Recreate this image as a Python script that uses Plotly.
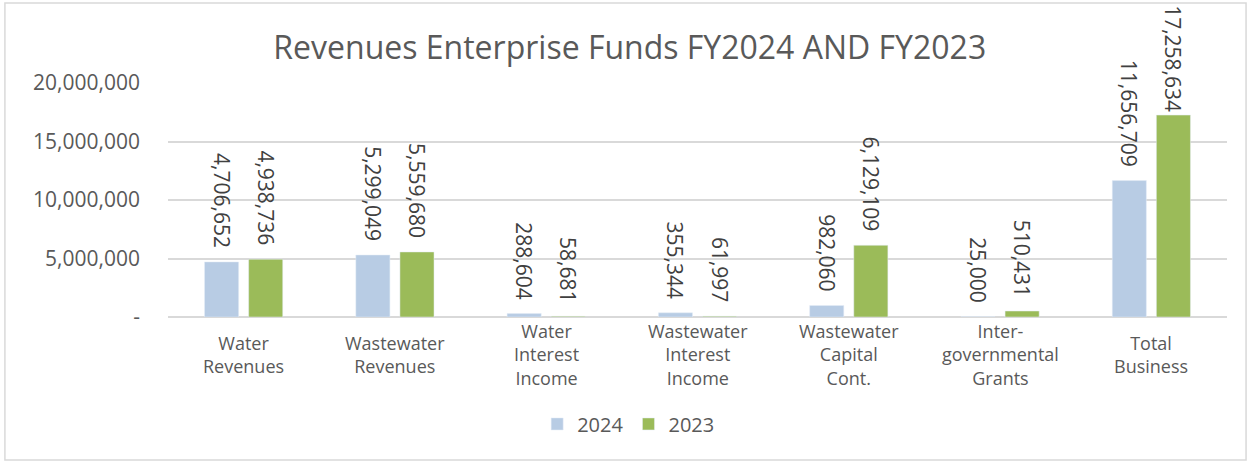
import plotly.graph_objects as go

categories = ["Water<br>Revenues", "Wastewater<br>Revenues", "Water<br>Interest<br>Income",
              "Wastewater<br>Interest<br>Income", "Wastewater<br>Capital<br>Cont.",
              "Inter-<br>governmental<br>Grants", "Total<br>Business"]
fy2024 = [4706652, 5299049, 288604, 355344, 982060, 25000, 11656709]
fy2023 = [4938736, 5559680, 58681, 61997, 6129109, 510431, 17258634]
ytick_vals = [0, 5000000, 10000000, 15000000, 20000000]
ytick_text = ["-", "5,000,000", "10,000,000", "15,000,000", "20,000,000"]

FONT = "Open Sans"
GRAY = "#595959"
LABEL_FONT = dict(size=21, color="#404040", family=FONT)
PAD = "%{y:,}\u00a0\u00a0"

# the tallest label runs into its bar in the original, so it gets no padding
tmpl_2023 = [PAD] * (len(fy2023) - 1) + ["%{y:,}"]

fig = go.Figure()
fig.add_trace(go.Bar(name="2024", x=categories, y=fy2024, marker_color="#B8CCE4",
                     texttemplate=PAD, textposition="outside", textangle=90,
                     constraintext="none", textfont=LABEL_FONT, cliponaxis=False))
fig.add_trace(go.Bar(name="2023", x=categories, y=fy2023, marker_color="#9BBB59",
                     texttemplate=tmpl_2023, textposition="outside", textangle=90,
                     constraintext="none", textfont=LABEL_FONT, cliponaxis=False))

# category labels, vertically centred like the original
for c in categories:
    fig.add_annotation(x=c, xref="x", y=-0.162, yref="paper", text=c, showarrow=False,
                       yanchor="middle", font=dict(size=18, color=GRAY, family=FONT))

# outer chart border
fig.add_shape(type="rect", xref="paper", yref="paper", x0=-0.154, x1=1.018, y0=-0.611, y1=1.342,
              line=dict(color="#D9D9D9", width=1.5))

fig.update_layout(
    width=1252, height=463,
    margin=dict(l=168, r=25, t=83, b=146, autoexpand=False),
    paper_bgcolor="white", plot_bgcolor="white",
    title=dict(text="Revenues Enterprise Funds FY2024 AND FY2023", x=0.503, xref="container",
               y=0.896, yref="container", yanchor="middle", xanchor="center",
               font=dict(size=32, color=GRAY, family=FONT)),
    barmode="group", bargap=0.417, bargroupgap=0.227,
    font=dict(family=FONT, color=GRAY),
    legend=dict(orientation="h", x=0.435, xanchor="center",
                y=-0.457, yanchor="middle", font=dict(size=20, color=GRAY),
                traceorder="normal"),
    yaxis=dict(range=[0, 20000000], tickvals=ytick_vals, ticktext=ytick_text,
               showgrid=True, gridcolor="#D9D9D9", gridwidth=1.5, zeroline=True,
               zerolinecolor="#D9D9D9", zerolinewidth=1.5, ticklabelstandoff=27,
               tickfont=dict(size=21, color=GRAY), showline=False, automargin=False),
    xaxis=dict(showticklabels=False, showgrid=False, showline=False, automargin=False),
)

fig.write_html("out.html", config={"displayModeBar": False},
               post_script="document.body.style.margin='0';")
